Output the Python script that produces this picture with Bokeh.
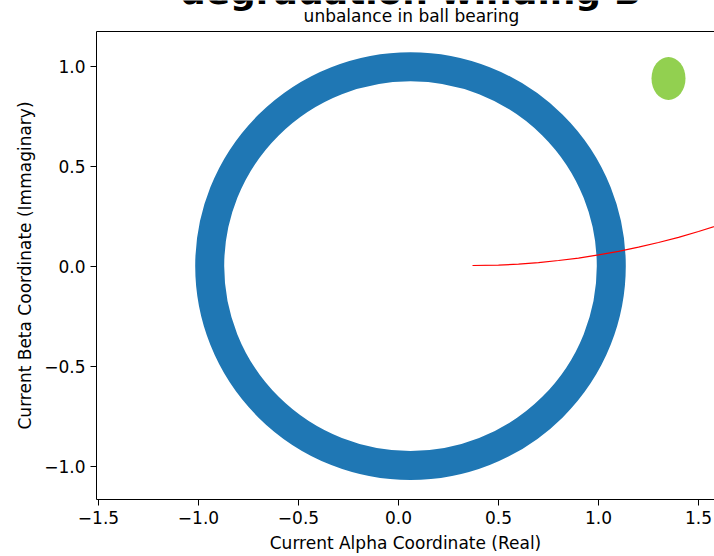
from bokeh.plotting import figure
from bokeh.models import Range1d, FixedTicker, Label, LinearAxis
from bokeh.layouts import column
from bokeh.embed import file_html
from bokeh.resources import INLINE

# ---- data ----
x_ticks = [-1.5, -1.0, -0.5, 0.0, 0.5, 1.0, 1.5]
x_tick_labels = ["\u22121.5", "\u22121.0", "\u22120.5", "0.0", "0.5", "1.0", "1.5"]
y_ticks = [-1.0, -0.5, 0.0, 0.5, 1.0]
y_tick_labels = ["\u22121.0", "\u22120.5", "0.0", "0.5", "1.0"]

# ring of alpha/beta current points (centre line and extents)
ring_cx = [0.06]
ring_cy = [0.002]
ring_w = [2.008]
ring_h = [1.994]

# red trajectory
traj_x = [0.37, 0.5, 0.6, 0.7, 0.8, 0.9, 1.0, 1.1, 1.2, 1.3, 1.4, 1.5, 1.6, 1.7]
traj_y = [0.005, 0.007, 0.012, 0.019, 0.030, 0.042, 0.058, 0.076, 0.097, 0.120, 0.146, 0.175, 0.206, 0.24]

# green marker ellipse
blob_x = [1.35]
blob_y = [0.94]
blob_w = [0.17]
blob_h = [0.215]

title_text = "degradation winding B"
subtitle_text = "unbalance in ball bearing"
x_label = "Current Alpha Coordinate (Real)"
y_label = "Current Beta Coordinate (Immaginary)"

FONT = "DejaVu Sans"

# ---- title strip (the big title runs off the top edge, as in the reference) ----
head = figure(width=714, height=31, output_backend="svg", toolbar_location=None,
              title=None, x_range=Range1d(96, 714), y_range=Range1d(0, 31),
              x_axis_type=None, y_axis_type=None, min_border=0)
head.outline_line_color = None
head.grid.visible = False
head.add_layout(Label(x=410, y=40, text=title_text, text_align="center",
                      text_baseline="alphabetic", text_font=FONT,
                      text_font_size="36px", text_font_style="bold",
                      text_color="black"))
head.add_layout(Label(x=411, y=15.3, text=subtitle_text, text_align="center",
                      text_baseline="alphabetic", text_font=FONT,
                      text_font_size="17px", text_color="black"))

# ---- main plot ----
p = figure(width=714, height=525, output_backend="svg", toolbar_location=None,
           x_range=Range1d(-1.51, 1.58), y_range=Range1d(-1.165, 1.175),
           min_border_left=96, min_border_right=0, min_border_top=0,
           min_border_bottom=57)
p.outline_line_color = None
p.grid.visible = False
p.background_fill_color = "white"
p.border_fill_color = "white"

p.ellipse(x=ring_cx, y=ring_cy, width=ring_w, height=ring_h,
          fill_color=None, line_color="#1f77b4", line_width=29)
p.line(traj_x, traj_y, line_color="red", line_width=1.2)
p.ellipse(x=blob_x, y=blob_y, width=blob_w, height=blob_h,
          fill_color="#92d050", line_color=None)

for ax, ticks, labels in ((p.xaxis[0], x_ticks, x_tick_labels),
                          (p.yaxis[0], y_ticks, y_tick_labels)):
    ax.ticker = FixedTicker(ticks=ticks)
    ax.major_label_overrides = {t: l for t, l in zip(ticks, labels)}
    ax.minor_tick_line_color = None
    ax.major_tick_in = 0
    ax.major_tick_out = 6
    ax.major_tick_line_color = "black"
    ax.axis_line_color = "black"
    ax.major_label_text_font = FONT
    ax.major_label_text_font_size = "17px"
    ax.major_label_text_color = "black"
    ax.major_label_standoff = 5
    ax.axis_label_text_font = FONT
    ax.axis_label_text_font_size = "17px"
    ax.axis_label_text_font_style = "normal"
    ax.axis_label_text_color = "black"
    ax.axis_label_standoff = 6

p.xaxis.axis_label = x_label
p.yaxis.axis_label = y_label

top = LinearAxis(ticker=FixedTicker(ticks=[]), major_label_text_font_size="0px",
                 major_tick_out=0, major_tick_in=0, major_label_standoff=0,
                 major_tick_line_color=None, minor_tick_line_color=None,
                 axis_line_color="black")
p.add_layout(top, "above")

layout = column(head, p, spacing=0)
open("out.html", "w").write(file_html(layout, INLINE))
